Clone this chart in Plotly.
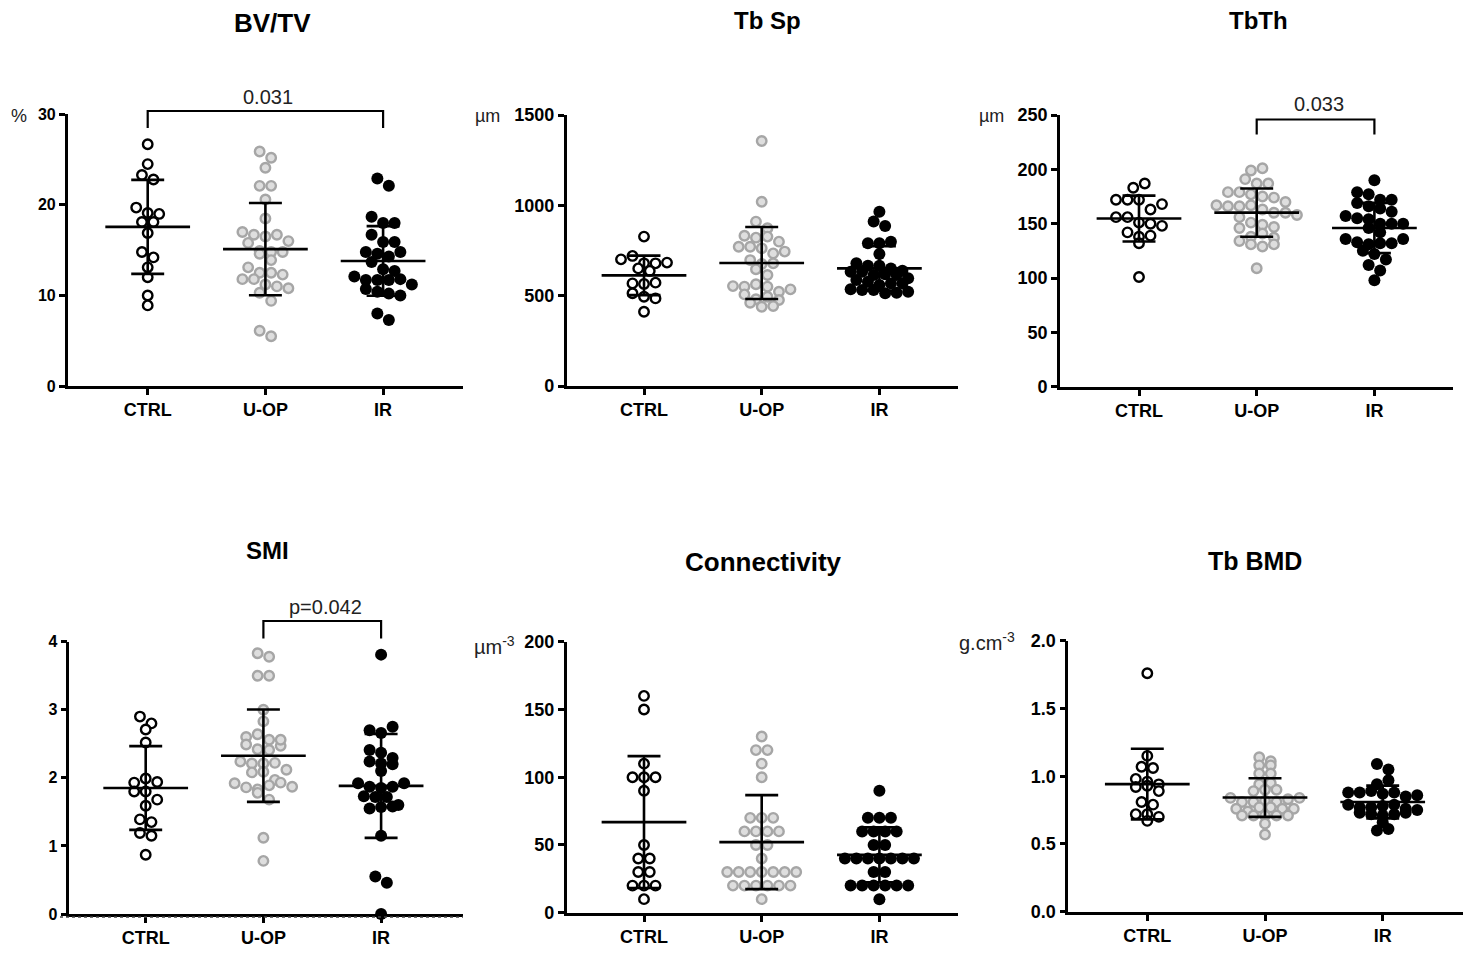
import numpy as np
import plotly.graph_objects as go

# ---------------- data ----------------
categories = ["CTRL", "U-OP", "IR"]

bvtv_ctrl = [26.7, 24.5, 23.3, 22.8, 19.7, 19.1, 19.0, 18.1, 18.1, 16.9, 14.8, 14.2, 13.1, 12.0, 10.0, 8.9]
bvtv_uop = [25.9, 25.2, 24.1, 22.1, 22.1, 20.6, 18.5, 17.0, 16.7, 16.5, 16.7, 16.0, 15.8, 14.9, 14.8, 14.6,
            14.8, 13.9, 13.1, 12.5, 12.5, 12.3, 11.8, 11.8, 11.2, 11.0, 10.8, 10.3, 9.4, 6.1, 5.5]
bvtv_ir = [22.9, 22.1, 18.7, 18.0, 18.0, 16.7, 15.9, 15.9, 14.8, 14.6, 14.3, 14.8, 13.7, 12.9, 12.7, 12.1,
           11.7, 11.7, 11.7, 11.8, 11.2, 10.7, 10.4, 10.2, 10.0, 8.0, 7.3]

tbsp_ctrl = [827, 701, 720, 679, 651, 679, 683, 637, 568, 565, 572, 513, 494, 485, 411]
tbsp_uop = [1356, 1020, 910, 873, 832, 821, 827, 799, 771, 771, 762, 734, 744, 697, 675, 679, 646, 614,
            553, 550, 563, 550, 522, 535, 507, 480, 494, 461, 476, 439, 443]
tbsp_ir = [965, 910, 886, 790, 790, 799, 731, 679, 666, 666, 633, 633, 651, 614, 618, 638, 614, 587,
           596, 577, 559, 568, 568, 535, 531, 531, 513, 516, 522]

tbth_ctrl = [183, 187, 172, 172, 172, 163, 168, 156, 156, 151, 150, 148, 142, 138, 139, 132, 101]
tbth_uop = [199, 201, 191, 187, 187, 179, 179, 177, 175, 174, 170, 167, 166, 166, 167, 163, 160, 160,
            156, 158, 151, 149, 147, 146, 138, 141, 137, 134, 131, 129, 131, 109]
tbth_ir = [190, 179, 177, 172, 172, 169, 166, 164, 157, 161, 155, 154, 150, 146, 150, 150, 142, 136,
           133, 131, 132, 132, 136, 125, 122, 117, 112, 107, 98]

smi_ctrl = [2.90, 2.80, 2.71, 2.52, 1.93, 1.99, 1.94, 1.80, 1.80, 1.68, 1.59, 1.39, 1.35, 1.19, 1.15, 0.87]
smi_uop = [3.83, 3.78, 3.50, 3.50, 3.00, 2.83, 2.60, 2.64, 2.56, 2.49, 2.42, 2.41, 2.47, 2.56, 2.24, 2.21,
           2.21, 2.22, 2.12, 2.08, 2.09, 1.97, 1.92, 1.86, 1.83, 1.89, 1.93, 1.87, 1.78, 1.68, 1.12, 0.78]
smi_ir = [3.81, 2.70, 2.66, 2.75, 2.41, 2.37, 2.29, 2.24, 2.21, 2.20, 2.10, 1.92, 1.87, 1.85, 1.87, 1.92,
          1.73, 1.72, 1.72, 1.60, 1.55, 1.57, 1.58, 1.15, 0.55, 0.46, 0.0]

conn_ctrl = [160, 150, 110, 100, 100, 100, 90, 50, 40, 40, 30, 30, 20, 20, 20, 10]
conn_uop = [130, 120, 120, 110, 100, 70, 70, 70, 60, 60, 60, 60, 50, 50, 40, 30, 30, 30, 30, 30, 30, 30,
            20, 20, 20, 20, 20, 20, 10]
conn_ir = [90, 70, 70, 70, 60, 60, 60, 60, 50, 50, 40, 40, 40, 40, 40, 40, 40, 30, 30, 20, 20, 20, 20,
           20, 20, 10]

bmd_ctrl = [1.76, 1.15, 1.07, 1.06, 0.98, 0.96, 0.94, 0.92, 0.93, 0.89, 0.81, 0.79, 0.72, 0.72, 0.70, 0.67]
bmd_uop = [1.14, 1.08, 1.11, 1.08, 1.02, 1.02, 0.94, 0.95, 0.89, 0.90, 0.90, 0.84, 0.81, 0.81, 0.82, 0.81,
           0.83, 0.84, 0.76, 0.74, 0.77, 0.77, 0.76, 0.76, 0.71, 0.71, 0.71, 0.71, 0.71, 0.65, 0.57]
bmd_ir = [1.09, 1.05, 0.94, 0.97, 0.88, 0.88, 0.89, 0.87, 0.88, 0.85, 0.86, 0.79, 0.77, 0.77, 0.78, 0.79,
          0.76, 0.73, 0.72, 0.71, 0.72, 0.73, 0.75, 0.66, 0.60, 0.61]

panel_titles = ["BV/TV", "Tb Sp", "TbTh", "SMI", "Connectivity", "Tb BMD"]
panel_units = ["%", "µm", "µm", "", "µm<sup>-3</sup>", "g.cm<sup>-3</sup>"]
panel_ymax = [30, 1500, 250, 4, 200, 2.0]
panel_dtick = [10, 500, 50, 1, 50, 0.5]
sig_labels = ["0.031", "0.033", "p=0.042"]

# ---------------- layout geometry (target pixels in the page) ----------------
W, H = 1471, 956
OFF = 8  # page body margin of the html page
FONT = "Liberation Sans"
SPACING = 117.7  # px per category

geom = [
    dict(left=67.7, right=463, c0=147.7, ybot=386.0, ytop=114.3, tfs=16, row=9.5),
    dict(left=566.7, right=958, c0=644.0, ybot=386.0, ytop=115.0, tfs=18, row=7.5),
    dict(left=1060.0, right=1453, c0=1139.0, ybot=386.7, ytop=115.0, tfs=18, row=10.0),
    dict(left=69.3, right=463, c0=145.7, ybot=914.0, ytop=641.7, tfs=16, row=9.0),
    dict(left=566.7, right=958, c0=644.0, ybot=912.7, ytop=641.7, tfs=18, row=8.0),
    dict(left=1068.3, right=1463, c0=1147.3, ybot=911.7, ytop=640.7, tfs=18, row=6.5),
]
title_pos = [(272, 23, 26), (767, 21, 24), (1258, 21, 24), (267, 550, 24), (763, 562, 26), (1255, 561, 25)]
unit_pos = [(9, 116, 18), (473, 116, 18), (977, 116, 18), (0, 0, 18), (472, 645, 20), (957, 641, 20)]

groups = [
    (bvtv_ctrl, bvtv_uop, bvtv_ir),
    (tbsp_ctrl, tbsp_uop, tbsp_ir),
    (tbth_ctrl, tbth_uop, tbth_ir),
    (smi_ctrl, smi_uop, smi_ir),
    (conn_ctrl, conn_uop, conn_ir),
    (bmd_ctrl, bmd_uop, bmd_ir),
]

marker_styles = [
    dict(symbol="circle", size=9.5, color="white", line=dict(color="black", width=2.4)),
    dict(symbol="circle", size=9.5, color="#dedede", line=dict(color="#a6a6a6", width=2.4)),
    dict(symbol="circle", size=12, color="black", line=dict(width=0)),
]


def swarm_offsets(vals, px_per_unit, row_px, d_px=11.5):
    vals = np.asarray(vals, dtype=float)
    order = np.argsort(-vals, kind="stable")
    rows, cur, start = [], [], None
    for i in order:
        v = vals[i] * px_per_unit
        if cur and start - v > row_px:
            rows.append(cur)
            cur = []
        if not cur:
            start = v
        cur.append(i)
    if cur:
        rows.append(cur)
    off = np.zeros(len(vals))
    for row in rows:
        n = len(row)
        row = sorted(row)
        for k, i in enumerate(row):
            off[i] = (k - (n - 1) / 2.0) * d_px / SPACING
    return off


def px_x(px):
    return (px - OFF) / W


def px_y(py):
    return 1 - (py - OFF) / H


fig = go.Figure()
layout = dict(
    width=W, height=H, margin=dict(l=0, r=0, t=0, b=0, autoexpand=False),
    paper_bgcolor="white", plot_bgcolor="white", showlegend=False,
    font=dict(family=FONT, color="black"),
)
annotations = []
shapes = []

for p in range(6):
    g = geom[p]
    idx = "" if p == 0 else str(p + 1)
    xr = [(g["left"] - g["c0"]) / SPACING, (g["right"] - g["c0"]) / SPACING]
    ppu = (g["ybot"] - g["ytop"]) / panel_ymax[p]
    fmt = ".1f" if panel_dtick[p] < 1 else "d"
    layout["xaxis" + idx] = dict(
        domain=[px_x(g["left"]), px_x(g["right"])], range=xr, anchor="y" + idx,
        tickvals=[0, 1, 2], ticktext=categories, showgrid=False, zeroline=False,
        automargin=False,
        showline=True, linecolor="black", linewidth=2.6, ticks="outside", ticklen=6,
        tickwidth=2.6, tickcolor="black",
        tickfont=dict(family=FONT, size=18, color="black", weight="bold"),
    )
    layout["yaxis" + idx] = dict(
        domain=[px_y(g["ybot"]), px_y(g["ytop"])], range=[0, panel_ymax[p]], anchor="x" + idx,
        tick0=0, dtick=panel_dtick[p], tickformat=fmt, showgrid=False, zeroline=False,
        automargin=False,
        showline=True, linecolor="black", linewidth=2.6, ticks="outside", ticklen=6,
        tickwidth=2.6, tickcolor="black",
        tickfont=dict(family=FONT, size=g["tfs"], color="black", weight="bold"),
    )
    for k, vals in enumerate(groups[p]):
        off = swarm_offsets(vals, ppu, g["row"])
        fig.add_trace(go.Scatter(
            x=k + off, y=vals, mode="markers", marker=marker_styles[k],
            xaxis="x" + idx, yaxis="y" + idx, cliponaxis=False, hoverinfo="y",
        ))
    for k, vals in enumerate(groups[p]):
        arr = np.asarray(vals, dtype=float)
        m, sd = arr.mean(), arr.std(ddof=1)
        fig.add_trace(go.Scatter(
            x=[k - 0.36, k + 0.36, None, k, k, None, k - 0.14, k + 0.14, None, k - 0.14, k + 0.14],
            y=[m, m, None, m - sd, m + sd, None, m + sd, m + sd, None, m - sd, m - sd],
            mode="lines", line=dict(color="black", width=2.6),
            xaxis="x" + idx, yaxis="y" + idx, cliponaxis=False, hoverinfo="skip",
        ))
    tx, ty, ts = title_pos[p]
    annotations.append(dict(
        text=panel_titles[p], x=px_x(tx), y=px_y(ty), xref="paper", yref="paper",
        xanchor="center", yanchor="middle", showarrow=False,
        font=dict(family=FONT, size=ts, color="black", weight="bold"),
    ))
    if panel_units[p]:
        ux, uy, us = unit_pos[p]
        annotations.append(dict(
            text=panel_units[p], x=px_x(ux), y=px_y(uy), xref="paper", yref="paper",
            xanchor="left", yanchor="middle", showarrow=False,
            font=dict(family=FONT, size=us, color="#222"),
        ))


def cat_px(p, k):
    return geom[p]["c0"] + k * SPACING


def bracket(p, k0, k1, top_py, leg_py, text, text_py):
    x0, x1 = px_x(cat_px(p, k0)), px_x(cat_px(p, k1))
    yt, yl = px_y(top_py), px_y(leg_py)
    shapes.append(dict(
        type="path", xref="paper", yref="paper",
        path=f"M {x0},{yl} L {x0},{yt} L {x1},{yt} L {x1},{yl}",
        line=dict(color="black", width=2.2),
    ))
    annotations.append(dict(
        text=text, x=(x0 + x1) / 2 + 3 / W, y=px_y(text_py), xref="paper", yref="paper",
        xanchor="center", yanchor="middle", showarrow=False,
        font=dict(family=FONT, size=20, color="#222"),
    ))


bracket(0, 0, 2, 111, 128, sig_labels[0], 97)
bracket(2, 1, 2, 119.5, 134.5, sig_labels[1], 104)
bracket(3, 1, 2, 621, 638.5, sig_labels[2], 607)

# dotted baseline in the SMI panel
shapes.append(dict(
    type="line", xref="paper", yref="paper", x0=px_x(60), x1=px_x(463),
    y0=px_y(917), y1=px_y(917), line=dict(color="#444", width=1.5, dash="dot"),
))

layout["annotations"] = annotations
layout["shapes"] = shapes
fig.update_layout(**layout)
fig.write_html("out.html")
